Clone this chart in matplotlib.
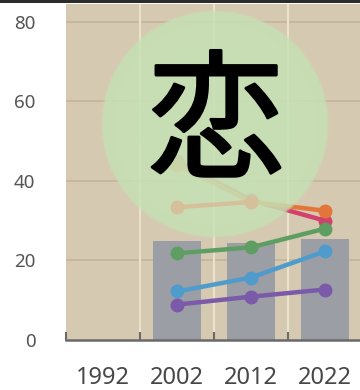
import matplotlib
matplotlib.use("Agg")
import matplotlib.pyplot as plt
from matplotlib.patches import Rectangle
import matplotlib.patheffects as pe
import numpy as np

# ---- data ----
years = ["1992", "2002", "2012", "2022"]
bar_values = [np.nan, 25.0, 24.3, 25.5]
purple = [np.nan, 8.9, 10.9, 12.7]
blue = [np.nan, 12.2, 15.7, 22.3]
green = [np.nan, 21.8, 23.3, 28.0]
tan = [np.nan, 33.4, 34.7, np.nan]
orange = [np.nan, 44.0, 34.8, 32.5]
red = [np.nan, 45.0, 35.2, 30.0]
yticks = [0, 20, 40, 60, 80]
kanji = "恋"

# ---- styles ----
bg = "#d5c9b1"
bar_color = "#9c9ea6"
under_circle = [(red, "#d2416c"), (orange, "#e2763a")]
over_circle = [
    (tan, "#d6c09c"),
    (green, "#5e9e62"),
    (blue, "#4f9bcb"),
    (purple, "#7b5aa9"),
]

W, H = 360, 390
fig = plt.figure(figsize=(W / 100, H / 100), dpi=100)
fig.patch.set_facecolor("white")
ax = fig.add_axes([66 / W, 50 / H, 296 / W, 336 / H])
ax.set_facecolor(bg)

x = np.arange(len(years))
xlim = (-0.5, len(years) - 0.5)
ylim = (0, 84.5)
ax.set_xlim(*xlim)
ax.set_ylim(*ylim)

# grid
for yv in yticks[1:]:
    ax.axhline(yv, color="#c5b59a", lw=1.2, zorder=0.5)
for b in np.arange(0.5, len(years) - 0.5, 1):
    ax.axvline(b, color="#ece2cb", lw=1.5, zorder=0.5)

ax.bar(x, bar_values, width=0.64, color=bar_color, zorder=1)

for vals, col in under_circle:
    ax.plot(x, vals, color=col, lw=3.2, marker="o", ms=9, zorder=2,
            solid_capstyle="round")

# overlay circle with soft radial alpha, placed via pixel->data transform
R = 113
cx, cy = 215, 124  # pixel coords from top-left
size = 2 * R + 4
yy, xx = np.mgrid[0:size, 0:size]
r = np.hypot(xx - size / 2 + 0.5, yy - size / 2 + 0.5)
edge = np.clip((R - r) / 3 + 0.5, 0, 1)
alpha = (0.92 - 0.10 * (r / R) ** 2) * edge
img = np.zeros((size, size, 4))
img[..., 0] = 198 / 255
img[..., 1] = 226 / 255
img[..., 2] = 181 / 255
img[..., 3] = np.clip(alpha, 0, 1)
inv = ax.transData.inverted()
(x0, y0) = inv.transform((cx - size / 2, H - cy - size / 2))
(x1, y1) = inv.transform((cx + size / 2, H - cy + size / 2))
ax.imshow(img, extent=(x0, x1, y0, y1), origin="lower", aspect="auto",
          zorder=3, interpolation="bilinear")

for vals, col in over_circle:
    ax.plot(x, vals, color=col, lw=3.2, marker="o", ms=9, zorder=4,
            solid_capstyle="round")

ax.set_xlim(*xlim)
ax.set_ylim(*ylim)

fig.text(216 / W, 1 - 127 / H, kanji, ha="center", va="center",
         fontsize=99, fontweight="normal",
         family=["Noto Sans CJK JP", "DejaVu Sans"], color="black", zorder=5,
         path_effects=[pe.withStroke(linewidth=2.2, foreground="black")])

# axes styling
for s in ["left", "right", "top"]:
    ax.spines[s].set_visible(False)
ax.spines["bottom"].set_color("#6a6a6a")
ax.spines["bottom"].set_linewidth(1.8)
ax.spines["bottom"].set_zorder(6)
ax.set_xticks(x)
ax.set_xticklabels(years, fontsize=17, color="#474747", family="Noto Sans")
ax.tick_params(axis="x", which="major", length=0, pad=19)
ax.set_xticks(np.arange(-0.5, len(years) - 0.5, 1), minor=True)
ax.tick_params(axis="x", which="minor", direction="in", length=6,
               width=1.5, color="#6a6a6a")
ax.set_yticks(yticks)
ax.set_yticklabels([str(v) for v in yticks], fontsize=13.5, color="#555555",
                   family="Noto Sans")
ax.tick_params(axis="y", length=0, pad=22)

# dark top border
fig.add_artist(Rectangle((0, 1 - 3 / H), 1, 3 / H, transform=fig.transFigure,
                         facecolor="#2b2b2b", edgecolor="none", zorder=10))

fig.savefig("out.png", dpi=100)
